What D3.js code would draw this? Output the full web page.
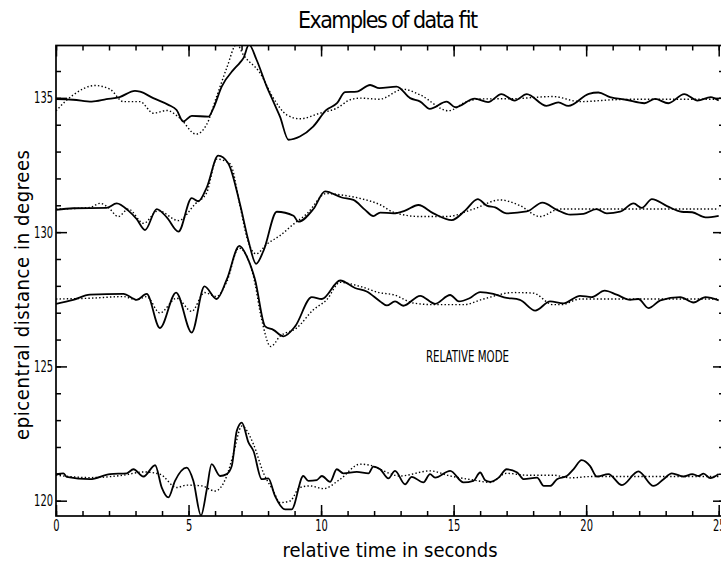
<!DOCTYPE html>
<html>
<head>
<meta charset="utf-8">
<script src="https://cdn.jsdelivr.net/npm/d3@7/dist/d3.min.js"></script>
<style>
  body { margin: 0; overflow: hidden; background: #fff; }
  text { font-family: "Liberation Sans Narrow", "DejaVu Sans Condensed", sans-serif; fill: #000; }
</style>
</head>
<body>
<svg id="chart" width="721" height="567"></svg>
<script>
// epicentral distance of each trace (degrees)
var traceDistances = [135.0, 130.9, 127.5, 120.9];

// [time s, offset in degrees] -- solid = data, dotted = fit
var trace1Data = [[0,-0.05],[0.65,-0.07],[1.35,-0.14],[1.9,-0.05],[2.4,0.03],[2.98,0.26],[3.17,0.23],[3.67,-0.01],[4.24,-0.26],[4.55,-0.45],[4.8,-0.88],[5.12,-0.67],[5.75,-0.70],[5.94,-0.38],[6.25,0.42],[6.69,1.04],[6.94,1.31],[7.07,1.48],[7.28,1.98],[7.57,1.41],[7.95,0.42],[8.2,-0.14],[8.45,-0.70],[8.77,-1.56],[9.2,-1.44],[9.7,-1.07],[10.2,-0.45],[10.6,-0.20],[10.9,0.21],[11.35,0.23],[11.85,0.48],[12.2,0.36],[12.85,0.42],[13.36,-0.01],[13.74,-0.14],[14.1,-0.41],[14.74,-0.14],[15.06,-0.35],[15.8,-0.03],[16.3,-0.16],[16.8,0.14],[17.3,-0.10],[17.76,0.14],[18.5,-0.30],[18.95,-0.17],[19.33,-0.30],[20.1,0.15],[20.46,0.20],[20.9,0.03],[21.5,-0.07],[22.2,-0.20],[22.6,-0.04],[23.1,-0.20],[23.7,0.14],[24.2,-0.10],[24.7,0.03],[25,-0.10]];
var trace1Fit = [[0,-0.48],[0.65,0.11],[1.47,0.46],[2.04,0.32],[2.54,-0.14],[3.17,-0.14],[3.67,-0.57],[4.18,-0.47],[4.68,-0.76],[5.28,-1.35],[5.68,-1.00],[6.06,0.05],[6.44,1.11],[6.82,2.0],[7.07,1.60],[7.7,0.92],[8.2,-0.01],[8.7,-0.63],[9.2,-0.78],[9.96,-0.57],[10.6,-0.38],[11.1,-0.07],[11.47,-0.01],[12.2,-0.05],[13.1,0.32],[13.74,0.11],[14.8,-0.48],[15.5,-0.14],[16.0,-0.04],[17.25,-0.03],[18.75,0.05],[19.77,-0.14],[21.03,-0.07],[22,-0.05],[25,-0.05]];

var trace2Data = [[0,-0.07],[0.65,-0.01],[1.9,0],[2.29,0.17],[2.73,-0.10],[3.04,-0.41],[3.36,-0.82],[3.8,-0.04],[4.18,-0.35],[4.62,-0.88],[5.12,0.37],[5.37,0.25],[5.69,0.77],[6.12,1.95],[6.5,1.66],[6.94,0.15],[7.26,-1.22],[7.55,-2.08],[7.83,-1.59],[8.33,-0.14],[8.96,-0.29],[9.14,-0.51],[9.71,-0.04],[10.15,0.62],[10.78,0.39],[11.22,0.30],[11.66,-0.07],[11.97,-0.30],[12.23,-0.17],[12.73,-0.20],[13.17,-0.10],[13.67,0.11],[14.24,-0.20],[14.93,-0.45],[15.43,-0.10],[15.91,0.33],[16.25,0.09],[16.57,0.02],[17.0,-0.20],[17.76,-0.13],[18.35,0.20],[18.9,-0.07],[19.4,-0.25],[19.9,-0.22],[20.38,-0.04],[20.78,-0.20],[21.28,-0.14],[21.79,0.17],[22.1,0],[22.48,0.33],[23.05,0.07],[23.6,-0.14],[24.0,-0.16],[24.5,-0.35],[25,-0.29]];
var trace2Fit = [[0,-0.04],[1.28,0.02],[1.66,0.17],[1.97,0.02],[2.35,-0.32],[2.73,-0.04],[3.3,-0.57],[3.86,-0.10],[4.62,-0.47],[5.25,0.15],[5.69,0.58],[6.06,1.82],[6.57,1.64],[6.94,0.09],[7.2,-1.09],[7.55,-1.71],[7.96,-1.34],[8.45,-1.03],[8.96,-0.60],[9.46,-0.22],[10.2,0.54],[10.72,0.49],[11.5,0.35],[12.23,0.12],[12.73,-0.16],[13.74,-0.32],[14.74,-0.32],[15.75,-0.04],[16.75,0.30],[17.5,0.09],[18.26,-0.32],[19.0,-0.04],[25,-0.04]];

var trace3Data = [[0,-0.17],[0.65,-0.02],[1.28,0.17],[2.54,0.20],[3.04,-0.02],[3.42,0.20],[3.92,-1.07],[4.53,0.25],[5.12,-1.24],[5.6,0.48],[6.06,0.01],[6.44,0.73],[6.92,1.99],[7.2,1.59],[7.51,0.73],[7.89,-1.01],[8.2,-1.14],[8.58,-1.38],[9.02,-1.01],[9.65,0.08],[10.03,0.01],[10.72,0.70],[11.28,0.42],[11.72,0.29],[12.23,-0.08],[12.48,-0.23],[12.79,-0.08],[13.1,-0.24],[13.74,0.13],[14.3,-0.17],[14.87,0.16],[15.2,-0.08],[15.6,0.04],[16.0,0.27],[16.5,0.20],[16.9,0.07],[17.5,-0.02],[18.08,-0.42],[18.64,-0.08],[19.14,-0.15],[19.77,0.13],[20.2,0.08],[20.7,0.32],[21.15,0.17],[21.66,-0.02],[21.97,0.01],[22.35,-0.33],[22.8,-0.04],[23.55,0.08],[24.05,-0.12],[24.5,0.08],[25,-0.04]];
var trace3Fit = [[0,0.01],[1.28,0.04],[2.54,0.10],[3.04,-0.02],[3.42,0.10],[3.92,-0.51],[4.55,0.04],[5.12,-0.45],[5.6,0.25],[6.06,0.10],[6.44,0.65],[6.9,1.91],[7.45,0.85],[7.76,-0.76],[8.1,-1.76],[8.45,-1.38],[9.08,-1.07],[9.71,-0.39],[10.21,-0.02],[10.72,0.63],[11.47,0.48],[12.23,0.24],[12.73,0.17],[13.48,-0.14],[14.24,-0.20],[15.37,-0.20],[16.13,0.01],[17.26,0.25],[18.0,0.23],[18.75,-0.20],[19.07,-0.20],[19.77,0.01],[25,0.01]];

var trace4Data = [[0,0.09],[0.28,0.12],[0.4,-0.01],[1.28,-0.10],[2.04,0.09],[2.67,0.12],[2.92,0.27],[3.3,0],[3.74,0.42],[3.99,-0.41],[4.24,-0.78],[4.49,-0.16],[4.93,0.33],[5.18,-0.16],[5.47,-1.45],[5.69,-0.47],[5.87,0.46],[6.19,0.02],[6.44,0.09],[6.63,0.39],[6.82,1.70],[7.01,2.01],[7.26,1.27],[7.45,0.95],[7.76,-0.10],[8.01,-0.07],[8.26,-0.72],[8.64,-1.22],[8.89,-1.22],[9.33,0.02],[9.52,-0.16],[9.84,-0.13],[10.03,0.02],[10.34,-0.20],[10.59,0.27],[10.84,0.12],[11.35,0.17],[11.79,0.12],[11.97,0.37],[12.23,0.27],[12.54,-0.07],[12.79,0.21],[13.17,-0.29],[13.42,-0.01],[13.86,-0.22],[14.11,0.09],[14.3,-0.04],[14.87,0.21],[15.37,-0.22],[15.75,-0.16],[16.0,0.15],[16.19,-0.14],[16.38,-0.20],[16.7,-0.04],[17.0,0.27],[17.4,0.15],[17.65,-0.10],[18.15,-0.04],[18.4,-0.35],[18.64,-0.35],[18.9,-0.10],[19.27,0.02],[19.52,0.27],[19.83,0.61],[20.15,0.39],[20.4,0],[20.84,0.09],[21.35,-0.32],[21.97,0.19],[22.54,-0.35],[22.92,-0.10],[23.23,0.12],[23.67,0],[24.0,0.09],[24.24,0.02],[24.43,0.11],[24.68,-0.06],[25,0.09]];
var trace4Fit = [[0,0.05],[1.28,-0.04],[2.54,0.05],[3.3,0.17],[3.92,0.09],[4.55,-0.41],[4.93,-0.32],[5.5,-0.35],[6.0,-0.54],[6.44,0.02],[6.69,0.83],[7.01,1.88],[7.45,1.20],[7.82,0.15],[8.2,-0.54],[8.45,-0.97],[8.83,-0.91],[9.2,-0.41],[9.58,-0.35],[10.09,-0.45],[10.72,-0.10],[11.47,0.46],[11.97,0.39],[12.23,0.27],[12.98,0.02],[14.11,0.21],[14.87,0.02],[15.75,-0.13],[16.38,-0.22],[17.0,0.12],[17.76,0.05],[18.75,0.05],[19.4,-0.05],[20.2,0],[25,0]];

var timeMajor = [0, 5, 10, 15, 20, 25];
var distMajor = [120, 125, 130, 135];

var traces = [
  {dist: traceDistances[0], data: trace1Data, fit: trace1Fit},
  {dist: traceDistances[1], data: trace2Data, fit: trace2Fit},
  {dist: traceDistances[2], data: trace3Data, fit: trace3Fit},
  {dist: traceDistances[3], data: trace4Data, fit: trace4Fit}
];

var svg = d3.select('#chart');
var plotLeft = 56, plotRight = 724, plotTop = 45.5, plotBottom = 516;

var x = d3.scaleLinear().domain([0, 25.2]).range([plotLeft, plotRight]);
var y = d3.scaleLinear().domain([119.43, 136.95]).range([plotBottom, plotTop]);

svg.append('clipPath').attr('id', 'plot-clip')
  .append('rect')
  .attr('x', plotLeft).attr('y', plotTop)
  .attr('width', plotRight - plotLeft).attr('height', plotBottom - plotTop);

// minor ticks every second / degree, major every 5
var timeMinor = d3.range(0, 26);
var distMinor = d3.range(120, 137);

function styleAxis(g) {
  g.select('.domain').remove();
  g.selectAll('line').attr('stroke', '#000').attr('stroke-width', 1.5);
  g.selectAll('text')
    .attr('font-size', '16px')
    .attr('textLength', function() { return this.textContent.length * 6.3; })
    .attr('lengthAdjust', 'spacingAndGlyphs');
}

svg.append('g').attr('transform', 'translate(0,' + plotBottom + ')')
  .call(d3.axisBottom(x).tickValues(timeMinor).tickSize(-5).tickFormat(''))
  .call(styleAxis);
svg.append('g').attr('transform', 'translate(0,' + plotBottom + ')')
  .call(d3.axisBottom(x).tickValues(timeMajor).tickSize(-11).tickPadding(4).tickFormat(d3.format('d')))
  .call(styleAxis);
svg.append('g').attr('transform', 'translate(0,' + plotTop + ')')
  .call(d3.axisTop(x).tickValues(timeMinor).tickSize(-5).tickFormat(''))
  .call(styleAxis);
svg.append('g').attr('transform', 'translate(0,' + plotTop + ')')
  .call(d3.axisTop(x).tickValues(timeMajor).tickSize(-11).tickFormat(''))
  .call(styleAxis);

svg.append('g').attr('transform', 'translate(' + plotLeft + ',0)')
  .call(d3.axisLeft(y).tickValues(distMinor).tickSize(-5).tickFormat(''))
  .call(styleAxis);
svg.append('g').attr('transform', 'translate(' + plotLeft + ',0)')
  .call(d3.axisLeft(y).tickValues(distMajor).tickSize(-11).tickPadding(3).tickFormat(d3.format('d')))
  .call(styleAxis);
svg.append('g').attr('transform', 'translate(' + plotRight + ',0)')
  .call(d3.axisRight(y).tickValues(distMinor).tickSize(-5).tickFormat(''))
  .call(styleAxis);
svg.append('g').attr('transform', 'translate(' + plotRight + ',0)')
  .call(d3.axisRight(y).tickValues(distMajor).tickSize(-11).tickFormat(''))
  .call(styleAxis);

svg.append('rect')
  .attr('x', plotLeft).attr('y', plotTop)
  .attr('width', plotRight - plotLeft).attr('height', plotBottom - plotTop)
  .attr('fill', 'none').attr('stroke', '#000').attr('stroke-width', 1.7);

// traces
var plot = svg.append('g').attr('clip-path', 'url(#plot-clip)');

traces.forEach(function(tr) {
  var line = d3.line()
    .x(function(d) { return x(d[0]); })
    .y(function(d) { return y(tr.dist + d[1]); })
    .curve(d3.curveMonotoneX);
  plot.append('path')
    .attr('d', line(tr.fit))
    .attr('fill', 'none')
    .attr('stroke', '#000')
    .attr('stroke-width', 1.4)
    .attr('stroke-dasharray', '1.4,2.2');
  plot.append('path')
    .attr('d', line(tr.data))
    .attr('fill', 'none')
    .attr('stroke', '#000')
    .attr('stroke-width', 1.8)
    .attr('stroke-linejoin', 'round');
});

// labels
svg.append('text')
  .attr('x', 388).attr('y', 28)
  .attr('text-anchor', 'middle')
  .attr('font-size', '23px')
  .attr('font-weight', 300)
  .attr('textLength', 180).attr('lengthAdjust', 'spacing')
  .text('Examples of data fit');

svg.append('text')
  .attr('x', 390).attr('y', 557)
  .attr('text-anchor', 'middle')
  .attr('font-size', '20px')
  .attr('textLength', 215).attr('lengthAdjust', 'spacing')
  .text('relative time in seconds');

svg.append('text')
  .attr('transform', 'translate(29,295) rotate(-90)')
  .attr('text-anchor', 'middle')
  .attr('font-size', '20px')
  .attr('textLength', 290).attr('lengthAdjust', 'spacing')
  .text('epicentral distance in degrees');

svg.append('text')
  .attr('x', 426).attr('y', 361.5)
  .attr('font-size', '15px')
  .attr('textLength', 83).attr('lengthAdjust', 'spacingAndGlyphs')
  .text('RELATIVE MODE');
</script>
</body>
</html>
